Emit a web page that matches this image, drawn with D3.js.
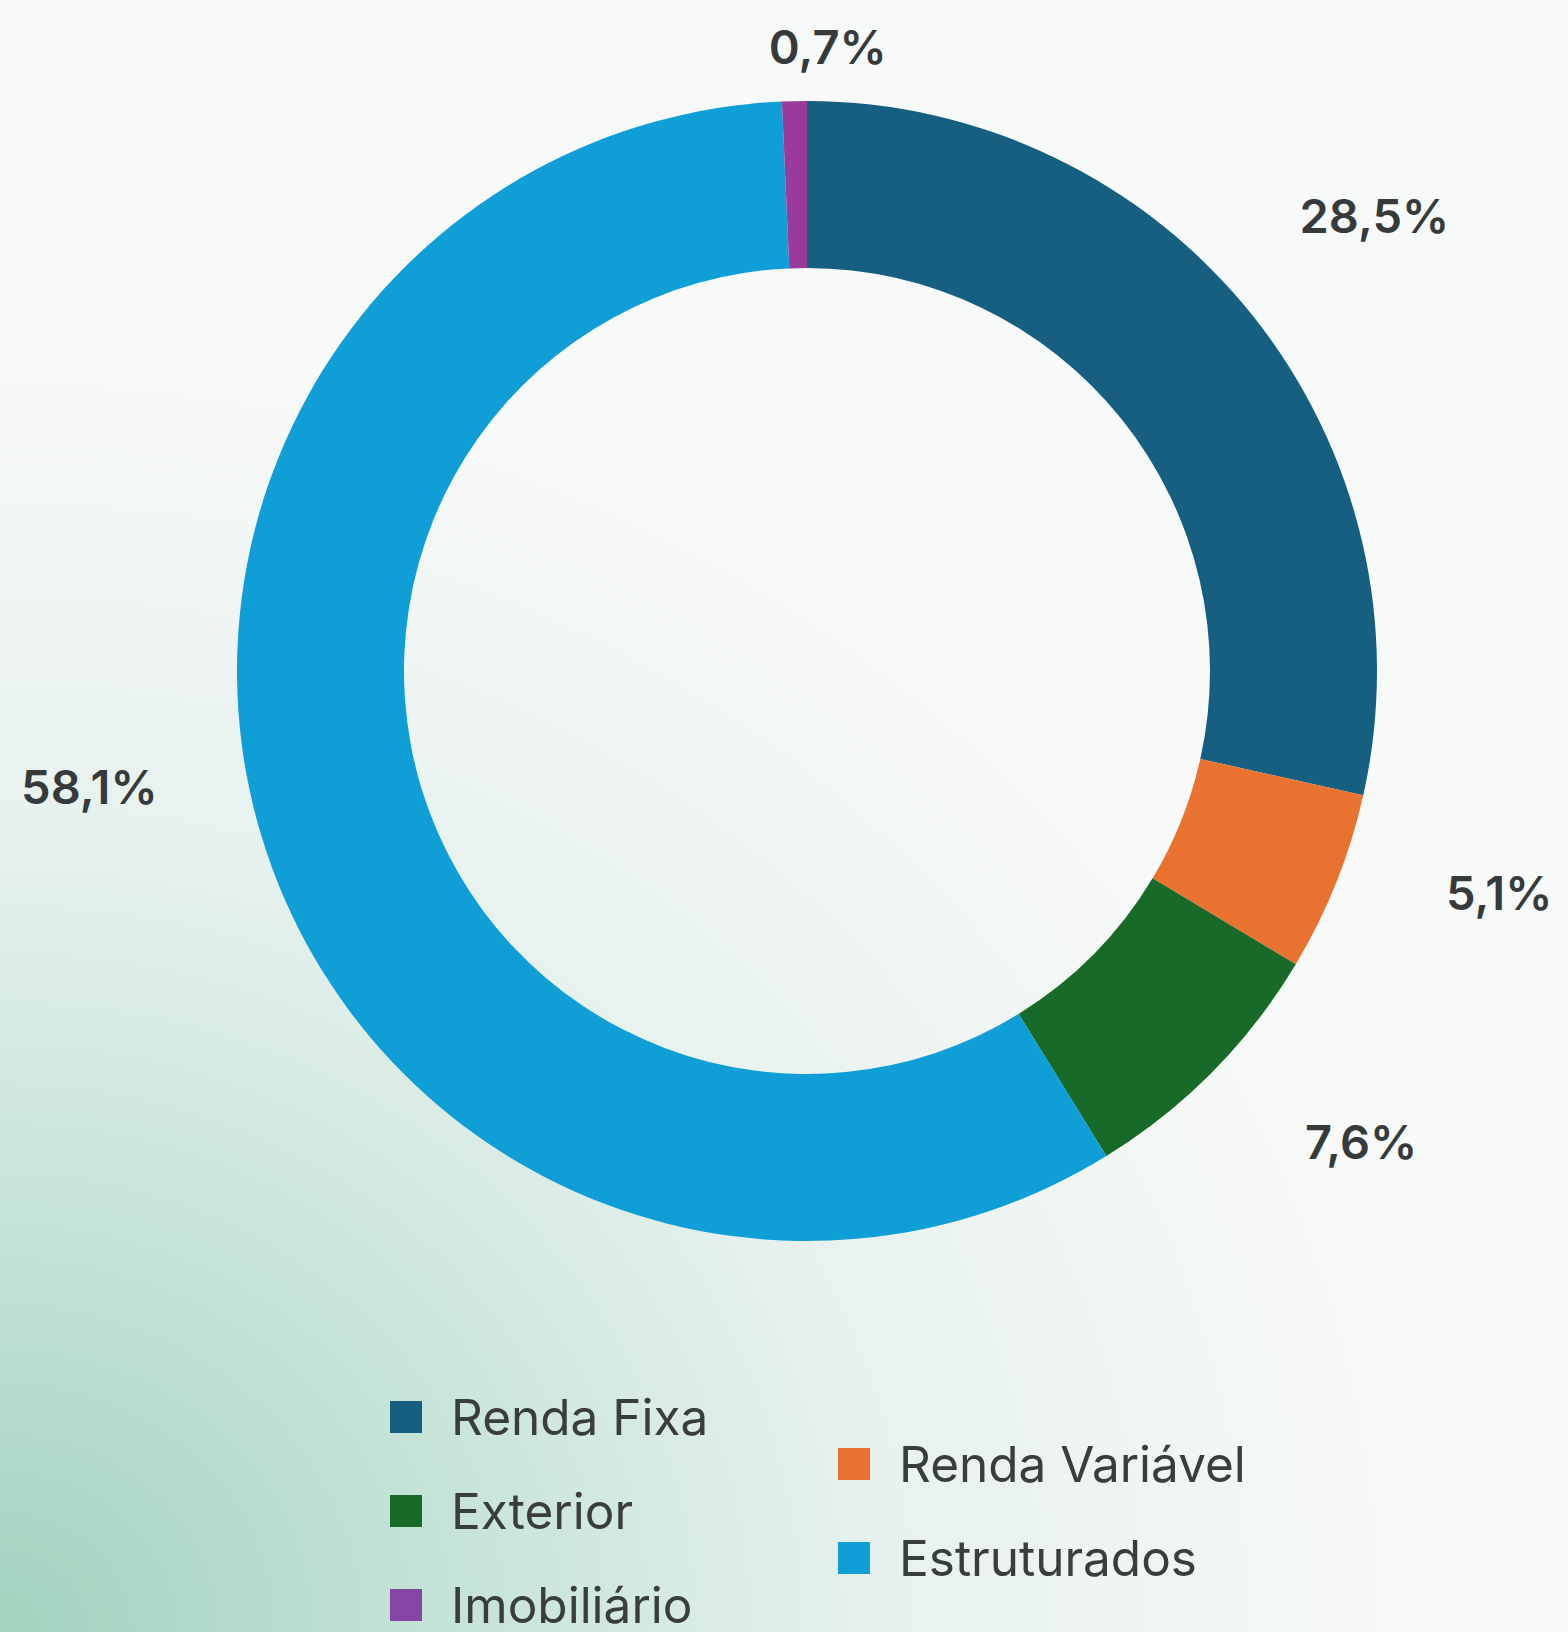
<!DOCTYPE html>
<html>
<head>
<meta charset="utf-8">
<script src="https://cdn.jsdelivr.net/npm/d3@7"></script>
<style>
    html, body { margin: 0; padding: 0; }
    body { width: 1568px; height: 1632px; overflow: hidden; }
    svg { display: block; }
</style>
</head>
<body>
<svg id="chart"></svg>
<script>
// Data
const categories = ['Renda Fixa', 'Renda Variável', 'Exterior', 'Estruturados', 'Imobiliário'];
const shares = [28.5, 5.1, 7.6, 58.1, 0.7];
const labels = ['28,5%', '5,1%', '7,6%', '58,1%', '0,7%'];
const colors = ['#165f80', '#e97231', '#176a28', '#109ed6', '#9a3a9d'];

// small angular shift (deg) applied to each value label
const labelShift = [0, -4.0, -4.3, 7.9, 2.9];

const W = 1568, H = 1632;
const cx = 807, cy = 671;
const outerR = 570, innerR = 403, labelR = 727;

const svg = d3.select('#chart')
    .attr('width', W)
    .attr('height', H);

const defs = svg.append('defs');

// background: white fading to mint green at bottom-left
const bg = defs.append('radialGradient')
    .attr('id', 'bg')
    .attr('gradientUnits', 'userSpaceOnUse')
    .attr('cx', 0).attr('cy', H)
    .attr('r', 1350)
    .attr('gradientTransform', `translate(0, ${H}) scale(1.05, 0.95) translate(0, ${-H})`);
bg.append('stop').attr('offset', '0%').attr('stop-color', '#a2d2bf');
bg.append('stop').attr('offset', '30%').attr('stop-color', '#c3e2d6');
bg.append('stop').attr('offset', '62%').attr('stop-color', '#e6f1ed');
bg.append('stop').attr('offset', '100%').attr('stop-color', '#f8f9f9');

// dithered fill for the Imobiliário legend swatch
const pat = defs.append('pattern')
    .attr('id', 'imob-pat')
    .attr('patternUnits', 'userSpaceOnUse')
    .attr('width', 4).attr('height', 4);
pat.append('rect').attr('width', 4).attr('height', 4).attr('fill', '#9a3a9d');
pat.append('rect').attr('x', 0).attr('y', 0).attr('width', 2).attr('height', 2).attr('fill', '#6e4fb0');
pat.append('rect').attr('x', 2).attr('y', 2).attr('width', 2).attr('height', 2).attr('fill', '#6e4fb0');

svg.append('rect')
    .attr('width', W)
    .attr('height', H)
    .attr('fill', 'url(#bg)');

// Donut
const pie = d3.pie()
    .sort(null)
    .value(d => d)
    .startAngle(0)
    .endAngle(2 * Math.PI);

const arc = d3.arc()
    .innerRadius(innerR)
    .outerRadius(outerR);

const arcs = pie(shares);

const donut = svg.append('g')
    .attr('transform', `translate(${cx}, ${cy})`);

donut.selectAll('path')
    .data(arcs)
    .enter()
    .append('path')
    .attr('d', arc)
    .attr('fill', (d, i) => colors[i]);

// Value labels outside the ring
const labelSize = 47;
const midAngle = (d, i) => (d.startAngle + d.endAngle) / 2 + labelShift[i] * Math.PI / 180;

donut.selectAll('.value-label')
    .data(arcs)
    .enter()
    .append('text')
    .attr('class', 'value-label')
    .attr('text-anchor', 'middle')
    .attr('dy', '0.36em')
    .attr('x', (d, i) => labelR * Math.sin(midAngle(d, i)))
    .attr('y', (d, i) => {
        const y = -labelR * Math.cos(midAngle(d, i));
        // keep label inside the top of the canvas
        return Math.max(y, 47 - cy);
    })
    .style('font-family', 'Inter, "Noto Sans", sans-serif')
    .style('font-size', labelSize + 'px')
    .style('font-weight', 600)
    .style('fill', '#363a3b')
    .text((d, i) => labels[i]);

// Legend: two staggered columns
const legend = svg.append('g').attr('class', 'legend');
const legendX = [390, 838];
const legendY0 = 1417, legendStep = 47, box = 32;

const items = legend.selectAll('.legend-item')
    .data(categories)
    .enter()
    .append('g')
    .attr('class', 'legend-item')
    .attr('transform', (d, i) => `translate(${legendX[i % 2]}, ${legendY0 + i * legendStep})`);

items.append('rect')
    .attr('x', 0)
    .attr('y', -box / 2)
    .attr('width', box)
    .attr('height', box)
    .attr('fill', (d, i) => d === 'Imobiliário' ? 'url(#imob-pat)' : colors[i]);

items.append('text')
    .attr('x', 61)
    .attr('dy', '0.36em')
    .style('font-family', 'Inter, "Noto Sans", sans-serif')
    .style('font-size', '49.5px')
    .style('font-weight', 400)
    .style('fill', '#3a3d3e')
    .text(d => d);
</script>
</body>
</html>
